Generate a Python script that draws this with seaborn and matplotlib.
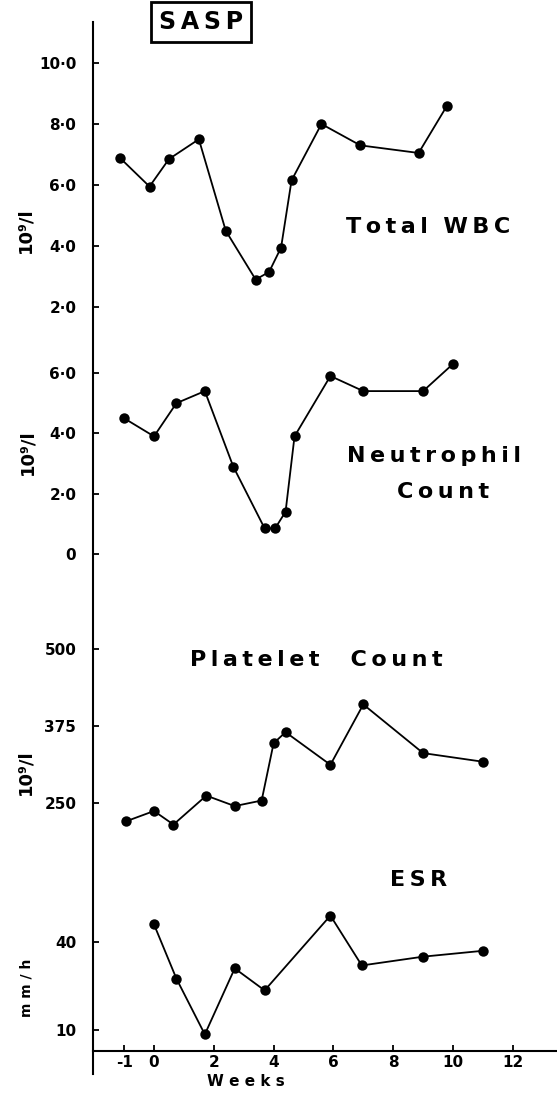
import matplotlib
matplotlib.use("Agg")
import matplotlib.pyplot as plt
import seaborn as sns

# values (weeks, value)
wbc_weeks = [-1.15, -0.15, 0.5, 1.5, 2.4, 3.4, 3.85, 4.25, 4.6, 5.6, 6.9, 8.85, 9.8]
wbc_vals = [6.9, 5.95, 6.85, 7.5, 4.5, 2.9, 3.15, 3.95, 6.15, 8.0, 7.3, 7.05, 8.6]

neut_weeks = [-1.0, 0.0, 0.75, 1.7, 2.65, 3.7, 4.05, 4.4, 4.7, 5.9, 7.0, 9.0, 10.0]
neut_vals = [4.5, 3.9, 5.0, 5.4, 2.9, 0.85, 0.85, 1.4, 3.9, 5.9, 5.4, 5.4, 6.3]

plat_weeks = [-0.95, 0.0, 0.65, 1.75, 2.7, 3.6, 4.0, 4.4, 5.9, 7.0, 9.0, 11.0]
plat_vals = [220, 237, 215, 262, 245, 254, 347, 365, 312, 410, 331, 317]

esr_weeks = [0.0, 0.75, 1.7, 2.7, 3.7, 5.9, 6.95, 9.0, 11.0]
esr_vals = [46, 27.5, 8.5, 31, 23.5, 49, 32, 35, 37]

week_ticks = [-1, 0, 2, 4, 6, 8, 10, 12]
week_labels = ["-1", "0", "2", "4", "6", "8", "10", "12"]

wbc_ticks = [2, 4, 6, 8, 10]
wbc_labels = ["2·0", "4·0", "6·0", "8·0", "10·0"]
neut_ticks = [0, 2, 4, 6]
neut_labels = ["0", "2·0", "4·0", "6·0"]
plat_ticks = [250, 375, 500]
plat_labels = ["250", "375", "500"]
esr_ticks = [10, 40]
esr_labels = ["10", "40"]

sns.set_style("ticks")
plt.rcParams["font.family"] = ["DejaVu Sans"]
plt.rcParams["font.weight"] = "bold"
for key in ["text.color", "axes.edgecolor", "xtick.color", "ytick.color", "axes.labelcolor"]:
    plt.rcParams[key] = "black"

W, H = 557, 1094
fig = plt.figure(figsize=(W / 100, H / 100), dpi=100)

# layout in pixels of the reference
left, right, top, bottom = 93, 557, 22, 1074
rect = [left / W, 1 - bottom / H, (right - left) / W, (bottom - top) / H]
x0_px, px_per_week = 154, 29.9
xlim = ((left - x0_px) / px_per_week, (right - x0_px) / px_per_week)


def ylim_for(v1, p1, v2, p2):
    s = (v1 - v2) / (p2 - p1)
    return v1 - (bottom - p1) * s, v1 + (p1 - top) * s


def spaced(s):
    # wide letter spacing like the lettering on the original
    return "\u2009".join(s)


def ftext(x, y, s, **kw):
    return fig.text(x / W, 1 - y / H, s, ha="center", va="center", **kw)


# background axes: vertical line + week axis
ax0 = fig.add_axes(rect)
ax0.set_xlim(xlim)
ax0.set_ylim(bottom, top)
for side in ["top", "right"]:
    ax0.spines[side].set_visible(False)
ax0.spines["left"].set_linewidth(1.5)
ax0.spines["bottom"].set_linewidth(1.5)
ax0.spines["bottom"].set_position(("data", 1051))
ax0.set_yticks([])
ax0.set_xticks(week_ticks, week_labels)
ax0.tick_params(axis="x", direction="in", length=4, width=1.3, labelsize=11, pad=3)

panels = [
    (wbc_weeks, wbc_vals, wbc_ticks, wbc_labels, ylim_for(10, 63, 2, 307)),
    (neut_weeks, neut_vals, neut_ticks, neut_labels, ylim_for(6, 373, 0, 554)),
    (plat_weeks, plat_vals, plat_ticks, plat_labels, ylim_for(500, 649, 250, 803)),
    (esr_weeks, esr_vals, esr_ticks, esr_labels, ylim_for(40, 942, 10, 1030)),
]

for weeks, vals, ticks, labels, ylim in panels:
    ax = fig.add_axes(rect)
    ax.patch.set_visible(False)
    for side in ax.spines:
        ax.spines[side].set_visible(False)
    sns.lineplot(x=weeks, y=vals, ax=ax, color="black", marker="o", markersize=7.5,
                 markeredgewidth=0, linewidth=1.3, sort=False)
    ax.set_xlim(xlim)
    ax.set_ylim(ylim)
    ax.set_xticks([])
    ax.set_yticks(ticks, labels)
    ax.tick_params(axis="y", direction="in", length=4, width=1.3, labelsize=11, pad=12)
    ax.set_xlabel("")
    ax.set_ylabel("")

# labels
ftext(201, 22, spaced("SASP"), fontsize=17, fontweight="heavy",
      bbox=dict(boxstyle="square,pad=0.32", fc="white", ec="black", lw=2))
ftext(428, 227, spaced("Total") + "  " + spaced("WBC"), fontsize=16, fontweight="heavy")
ftext(434, 456, spaced("Neutrophil"), fontsize=16, fontweight="heavy")
ftext(443, 492, spaced("Count"), fontsize=16, fontweight="heavy")
ftext(316, 660, spaced("Platelet") + "    " + spaced("Count"), fontsize=16, fontweight="heavy")
ftext(419, 880, spaced("ESR"), fontsize=16, fontweight="heavy")
ftext(246, 1082, "W e e k s", fontsize=11, fontweight="heavy")

ftext(25, 230, "10⁹/l", fontsize=13, rotation=90)
ftext(27, 452, "10⁹/l", fontsize=13, rotation=90)
ftext(25, 772, "10⁹/l", fontsize=13, rotation=90)
ftext(27, 988, "m m / h", fontsize=10, rotation=90)

fig.savefig("out.png", dpi=100)
